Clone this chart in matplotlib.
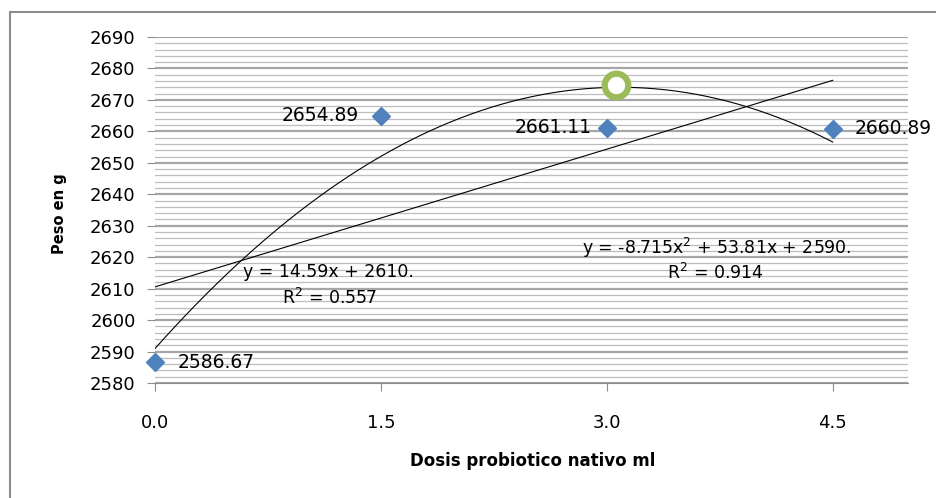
import numpy as np
import matplotlib.pyplot as plt
from matplotlib.patches import Rectangle
from matplotlib.ticker import MultipleLocator

# data
dosis = [0.0, 1.5, 3.0, 4.5]
peso = [2586.67, 2664.89, 2661.11, 2660.89]
etiquetas = ['2586.67', '2654.89', '2661.11', '2660.89']  # labels as printed on the chart
x_ticks = [0.0, 1.5, 3.0, 4.5]
x_tick_labels = ['0.0', '1.5', '3.0', '4.5']
optimo_x = [3.06]
optimo_y = [2674.7]

plt.rcParams['font.family'] = ['DejaVu Sans']

fig = plt.figure(figsize=(9.36, 4.98), dpi=100)
ax = fig.add_axes([155 / 936, 1 - 383 / 498, (908 - 155) / 936, (383 - 37) / 498])

# outer chart frame
fig.patches.append(Rectangle((10 / 936, -0.05), 1.1, 1 - 12 / 498 + 0.05,
                             transform=fig.transFigure, fill=False,
                             edgecolor='#8c8c8c', linewidth=1.5))

# trend lines (linear and quadratic fit of the points)
lin = np.polyfit(dosis, peso, 1)
quad = np.polyfit(dosis, peso, 2)
xs = np.linspace(0, 4.5, 200)
ax.plot(xs, np.polyval(lin, xs), color='black', linewidth=0.8, zorder=3)
ax.plot(xs, np.polyval(quad, xs), color='black', linewidth=0.8, zorder=3)

# points
ax.plot(dosis, peso, linestyle='none', marker='D', markersize=9,
        color='#4F81BD', zorder=4, clip_on=False)
ax.plot(optimo_x, optimo_y, linestyle='none', marker='o', markersize=17,
        markerfacecolor='white', markeredgecolor='#9BBB59',
        markeredgewidth=4.5, zorder=5)

# data labels
offsets = [(16, 'left'), (-16, 'right'), (-11, 'right'), (16, 'left')]
for x, y, t, (dx, ha) in zip(dosis, peso, etiquetas, offsets):
    ax.annotate(t, (x, y), xytext=(dx, 0), textcoords='offset points',
                ha=ha, va='center', fontsize=13.5)

# trend equations
ax.text(1.15, 2615.3, 'y = 14.59x + 2610.', ha='center', va='center', fontsize=12.5)
ax.text(1.16, 2607.0, 'R$^2$ = 0.557', ha='center', va='center', fontsize=12.5)
ax.text(3.73, 2622.9, 'y = -8.715x$^2$ + 53.81x + 2590.', ha='center', va='center', fontsize=12.5)
ax.text(3.72, 2615.0, 'R$^2$ = 0.914', ha='center', va='center', fontsize=12.5)

ax.set_xlim(0, 5)
ax.set_ylim(2580, 2690)
ax.set_xticks(x_ticks)
ax.set_xticklabels(x_tick_labels)
ax.yaxis.set_major_locator(MultipleLocator(10))
ax.yaxis.set_minor_locator(MultipleLocator(2))
ax.grid(axis='y', which='major', color='#a6a6a6', linewidth=1.6)
ax.grid(axis='y', which='minor', color='#bdbdbd', linewidth=0.9)
ax.set_axisbelow(True)

for s in ['top', 'right', 'left']:
    ax.spines[s].set_visible(False)
ax.spines['bottom'].set_color('#8c8c8c')
ax.tick_params(axis='y', which='major', length=6, color='#8c8c8c', labelsize=13, pad=8)
ax.tick_params(axis='y', which='minor', length=0)
ax.tick_params(axis='x', length=6, color='#8c8c8c', labelsize=13, pad=16)

ax.set_xlabel('Dosis probiotico nativo ml', fontsize=12, fontweight='bold')
ax.xaxis.set_label_coords(0.502, -0.2)
ax.set_ylabel('Peso en g', fontsize=10.5, fontweight='bold')
ax.yaxis.set_label_coords(-0.117, 0.49)

fig.savefig('out.png', dpi=100)
